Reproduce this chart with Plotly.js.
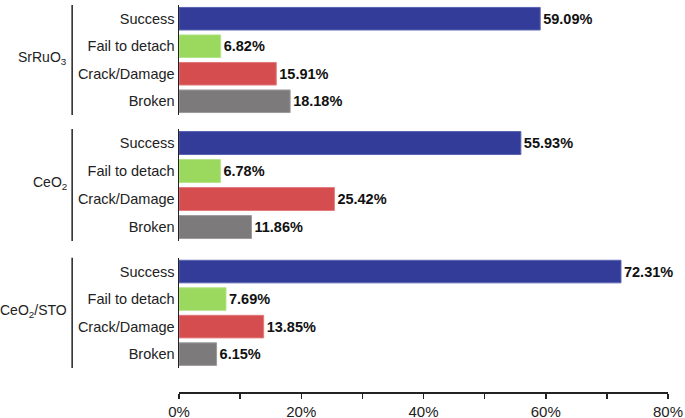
<!DOCTYPE html>
<html><head><meta charset="utf-8">
<script src="https://cdn.plot.ly/plotly-3.0.1.min.js"></script>
<style>body{margin:0;}#chart{width:685px;height:418px;}</style>
</head><body><div id="chart"></div>
<script>
const groups = ['SrRuO<sub>3</sub>', 'CeO<sub>2</sub>', 'CeO<sub>2</sub>/STO'];
const categories = ['Success', 'Fail to detach', 'Crack/Damage', 'Broken'];
const srruo3 = [59.09, 6.82, 15.91, 18.18];
const ceo2 = [55.93, 6.78, 25.42, 11.86];
const ceo2sto = [72.31, 7.69, 13.85, 6.15];
const barColors = ['#333c99', '#9ad85e', '#d64d4f', '#7c7a7b'];
const lineColors = ['#5a63b0', '#b5e58a', '#e07a7c', '#9c9a9b'];
const xTickVals = [0, 10, 20, 30, 40, 50, 60, 70, 80];
const xTickText = ['0%', '', '20%', '', '40%', '', '60%', '', '80%'];

const series = [srruo3, ceo2, ceo2sto];
const domains = [[0.712, 0.995], [0.388, 0.676], [0.062, 0.345]];
const font = 'Liberation Sans, Arial, sans-serif';

const traces = series.map((vals, i) => ({
  type: 'bar', orientation: 'h',
  x: vals, y: categories,
  xaxis: 'x', yaxis: i === 0 ? 'y' : 'y' + (i + 1),
  marker: {color: barColors, line: {color: lineColors, width: 1}},
  text: vals.map(v => '<b>' + v.toFixed(2) + '%</b>'),
  textposition: 'outside', cliponaxis: false,
  textfont: {family: font, size: 14.5, color: '#111'},
  hoverinfo: 'none', showlegend: false
}));

const layout = {
  width: 685, height: 418,
  margin: {l: 179, r: 17, t: 3, b: 26},
  paper_bgcolor: '#fff', plot_bgcolor: '#fff',
  bargap: 0.18,
  font: {family: font, size: 14.5, color: '#222'},
  xaxis: {
    range: [0, 80], tickvals: xTickVals, ticktext: xTickText,
    anchor: 'free', position: 0,
    showline: true, linecolor: '#222', linewidth: 1.5,
    ticks: 'outside', ticklen: 5, tickwidth: 1.5, tickcolor: '#222',
    showgrid: false, zeroline: false,
    tickfont: {family: font, size: 15, color: '#222'}
  },
  annotations: [], shapes: []
};

domains.forEach((d, i) => {
  const key = i === 0 ? 'yaxis' : 'yaxis' + (i + 1);
  layout[key] = {
    domain: d, anchor: 'x', type: 'category',
    categoryorder: 'array', categoryarray: categories,
    autorange: 'reversed',
    showline: true, linecolor: '#222', linewidth: 1.5,
    ticks: '', ticklen: 0, showgrid: false, zeroline: false,
    tickfont: {family: font, size: 14.5, color: '#222'}
  };
  layout.shapes.push({
    type: 'line', xref: 'paper', yref: 'paper',
    x0: -0.2185, x1: -0.2185, y0: d[0], y1: d[1],
    line: {color: '#222', width: 1.5}
  });
  layout.annotations.push({
    text: groups[i], xref: 'paper', yref: 'paper',
    x: -0.225, y: (d[0] + d[1]) / 2 + 0.005, xanchor: 'right', yanchor: 'middle',
    showarrow: false, font: {family: font, size: 14, color: '#222'}
  });
});

Plotly.newPlot('chart', traces, layout, {displayModeBar: false, staticPlot: true});
</script></body></html>
